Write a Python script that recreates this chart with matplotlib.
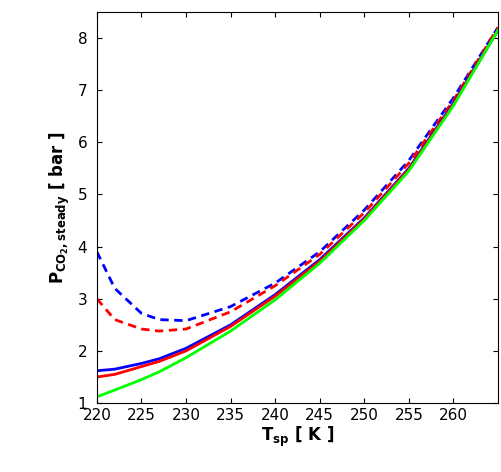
import matplotlib
matplotlib.use("Agg")
import matplotlib.pyplot as plt

T = [220, 222, 225, 227, 230, 235, 240, 245, 250, 255, 260, 265]
blue_dash = [3.9, 3.2, 2.72, 2.6, 2.58, 2.85, 3.3, 3.9, 4.7, 5.65, 6.85, 8.2]
red_dash = [3.0, 2.6, 2.42, 2.38, 2.42, 2.75, 3.25, 3.85, 4.65, 5.6, 6.8, 8.2]
blue_solid = [1.62, 1.65, 1.76, 1.85, 2.05, 2.5, 3.08, 3.75, 4.55, 5.5, 6.75, 8.15]
red_solid = [1.5, 1.55, 1.7, 1.8, 2.0, 2.47, 3.05, 3.72, 4.53, 5.48, 6.73, 8.15]
green = [1.12, 1.25, 1.45, 1.6, 1.87, 2.38, 2.98, 3.68, 4.5, 5.45, 6.7, 8.15]

fig = plt.figure(figsize=(5.02, 4.72), dpi=100)
ax = fig.add_axes([0.193, 0.146, 0.799, 0.829])
ax.plot(T, blue_dash, color='blue', lw=2, dashes=(3, 2))
ax.plot(T, red_dash, color='red', lw=2, dashes=(3, 2))
ax.plot(T, blue_solid, '-', color='blue', lw=2)
ax.plot(T, red_solid, '-', color='red', lw=2)
ax.plot(T, green, '-', color='#00ff00', lw=2)
ax.set_xlim(220, 265)
ax.set_ylim(1, 8.5)
ax.set_xticks([220, 225, 230, 235, 240, 245, 250, 255, 260])
ax.set_yticks(range(1, 9))
ax.tick_params(direction='in', top=True, right=True, labelsize=11)
ax.tick_params(axis='y', pad=7)
ax.set_xlabel(r'$\mathbf{T_{sp}}$ [ K ]', fontweight='bold', fontsize=12, labelpad=1)
ax.set_ylabel(r'$\mathbf{P_{CO_2,steady}}$ [ bar ]', fontweight='bold', fontsize=12)
fig.savefig('out.png', dpi=100)
